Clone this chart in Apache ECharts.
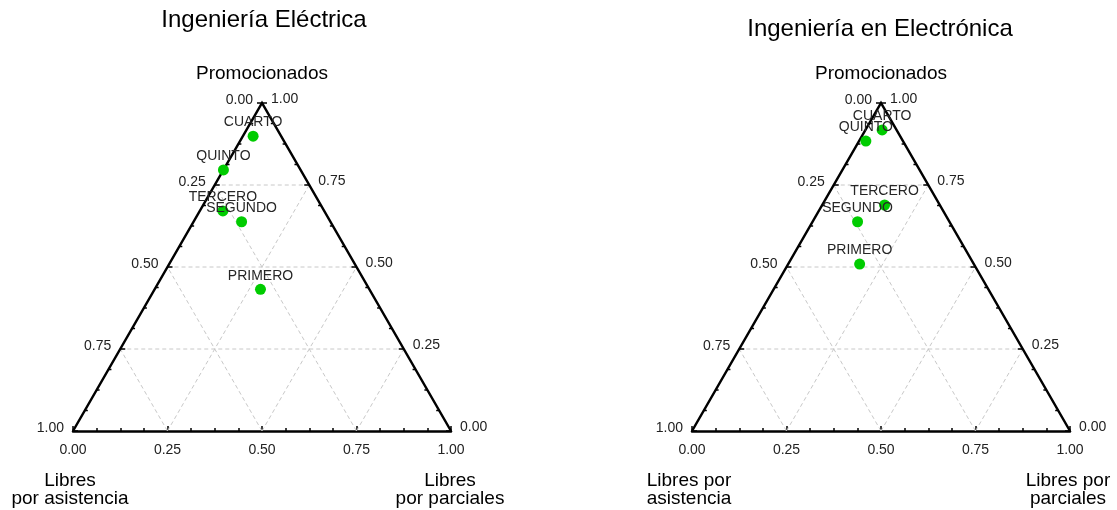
<!DOCTYPE html>
<html>
<head>
<meta charset="utf-8">
<script src="https://cdn.jsdelivr.net/npm/echarts@6/dist/echarts.min.js"></script>
<style>
html,body{margin:0;padding:0;background:#fff;}
#chart{width:1117px;height:510px;}
</style>
</head>
<body>
<div id="chart"></div>
<script>
// ---- Data ----
const categories = ['PRIMERO', 'SEGUNDO', 'TERCERO', 'CUARTO', 'QUINTO'];
// Ingeniería Eléctrica (fractions)
const electricaPromocionados = [0.432, 0.638, 0.671, 0.899, 0.796];
const electricaAsistencia    = [0.288, 0.235, 0.268, 0.074, 0.204];
const electricaParciales     = [0.280, 0.127, 0.061, 0.027, 0.000];
// Ingeniería en Electrónica (fractions)
const electronicaPromocionados = [0.509, 0.638, 0.689, 0.918, 0.884];
const electronicaAsistencia    = [0.302, 0.243, 0.146, 0.038, 0.098];
const electronicaParciales     = [0.189, 0.119, 0.165, 0.044, 0.018];
// Tick values
const tickValues = [0, 0.25, 0.5, 0.75, 1];
const gridValues = [0.25, 0.5, 0.75];
const minorSteps = 16;

const FONT = "'Liberation Sans', Arial, sans-serif";

// ternary -> cartesian (x along bottom, y = promocionados height)
function toXY(promo, asis, parc) {
  return [parc + promo / 2, promo];
}

function buildPoints(promo, asis, parc) {
  return categories.map((name, i) => ({
    name: name,
    value: toXY(promo[i], asis[i], parc[i])
  }));
}

function frameRenderer(params, api) {
  const c = (p) => api.coord(p);
  const children = [];
  // dashed grid lines
  gridValues.forEach(t => {
    const segs = [
      [[t / 2, t], [1 - t / 2, t]],                 // constant promocionados
      [[t, 0], [t + (1 - t) / 2, 1 - t]],           // constant parciales
      [[1 - t, 0], [(1 - t) / 2, 1 - t]]            // constant asistencia
    ];
    segs.forEach(s => {
      const a = c(s[0]), b = c(s[1]);
      children.push({
        type: 'line',
        shape: { x1: a[0], y1: a[1], x2: b[0], y2: b[1] },
        style: { stroke: '#c8c8c8', lineWidth: 1, lineDash: [4, 3] },
        z2: 1
      });
    });
  });
  // triangle sides (left & right; bottom is the x axis)
  children.push({
    type: 'polyline',
    shape: { points: [c([0, 0]), c([0.5, 1]), c([1, 0])] },
    style: { stroke: '#000', lineWidth: 2.5, fill: null, lineJoin: 'miter' },
    z2: 5
  });
  // side ticks
  for (let i = 0; i <= minorSteps; i++) {
    const t = i / minorSteps;
    const len = (i % 4 === 0) ? 5 : 3;
    const L = c([(1 - t) / 2, 1 - t]);
    const R = c([1 - t / 2, t]);
    children.push({
      type: 'line',
      shape: { x1: L[0], y1: L[1], x2: L[0] + len, y2: L[1] },
      style: { stroke: '#000', lineWidth: 1.5 }, z2: 5
    });
    children.push({
      type: 'line',
      shape: { x1: R[0], y1: R[1], x2: R[0] - len, y2: R[1] },
      style: { stroke: '#000', lineWidth: 1.5 }, z2: 5
    });
  }
  // side labels
  tickValues.forEach(t => {
    const L = c([(1 - t) / 2, 1 - t]);
    const R = c([1 - t / 2, t]);
    children.push({
      type: 'text',
      x: L[0] - 9, y: L[1] - 3,
      style: { text: t.toFixed(2), fontSize: 14, fontFamily: FONT, fill: '#222', align: 'right', verticalAlign: 'middle' },
      z2: 6
    });
    children.push({
      type: 'text',
      x: R[0] + 9, y: R[1] - 4,
      style: { text: t.toFixed(2), fontSize: 14, fontFamily: FONT, fill: '#222', align: 'left', verticalAlign: 'middle' },
      z2: 6
    });
  });
  return { type: 'group', children: children };
}

const chart = echarts.init(document.getElementById('chart'), null, { renderer: 'canvas' });

function xAxisDef(idx) {
  return {
    gridIndex: idx, type: 'value', min: 0, max: 1, interval: 0.25,
    axisLine: { show: true, onZero: true, lineStyle: { color: '#000', width: 2.5 } },
    axisTick: { show: true, inside: true, length: 5, lineStyle: { color: '#000', width: 1.5 } },
    minorTick: { show: true, splitNumber: 4, length: 3, lineStyle: { color: '#000', width: 1.5 } },
    axisLabel: { formatter: v => v.toFixed(2), fontSize: 14, fontFamily: FONT, color: '#222', margin: 12 },
    splitLine: { show: false }
  };
}
function yAxisDef(idx) {
  return { gridIndex: idx, type: 'value', min: 0, max: 1, show: false, splitLine: { show: false } };
}

function textEl(x, y, text, size, lh) {
  return {
    type: 'text', x: x, y: y,
    style: { text: text, fontSize: size, fontFamily: FONT, fill: '#000', align: 'center', verticalAlign: 'middle', lineHeight: lh || size + 2 }
  };
}

const option = {
  animation: false,
  backgroundColor: '#fff',
  grid: [
    { left: 73, top: 103, width: 378, height: 328 },
    { left: 692, top: 103, width: 378, height: 328 }
  ],
  xAxis: [xAxisDef(0), xAxisDef(1)],
  yAxis: [yAxisDef(0), yAxisDef(1)],
  graphic: [
    textEl(264, 20, 'Ingeniería Eléctrica', 24),
    textEl(880, 29, 'Ingeniería en Electrónica', 24),
    textEl(262, 74, 'Promocionados', 19),
    textEl(881, 74, 'Promocionados', 19),
    textEl(70, 490, 'Libres\npor asistencia', 19, 18),
    textEl(450, 490, 'Libres\npor parciales', 19, 18),
    textEl(689, 490, 'Libres por\nasistencia', 19, 18),
    textEl(1068, 490, 'Libres por\nparciales', 19, 18)
  ],
  series: [
    {
      type: 'custom', xAxisIndex: 0, yAxisIndex: 0, data: [[0, 0]],
      renderItem: frameRenderer, silent: true, clip: false, z: 1
    },
    {
      type: 'custom', xAxisIndex: 1, yAxisIndex: 1, data: [[0, 0]],
      renderItem: frameRenderer, silent: true, clip: false, z: 1
    },
    {
      type: 'scatter', xAxisIndex: 0, yAxisIndex: 0, z: 4,
      symbolSize: 11, itemStyle: { color: '#00cc00', opacity: 1 },
      label: { show: true, position: 'top', distance: 1, formatter: p => p.name, fontSize: 14, fontFamily: FONT, color: '#262626' },
      data: buildPoints(electricaPromocionados, electricaAsistencia, electricaParciales)
    },
    {
      type: 'scatter', xAxisIndex: 1, yAxisIndex: 1, z: 4,
      symbolSize: 11, itemStyle: { color: '#00cc00', opacity: 1 },
      label: { show: true, position: 'top', distance: 1, formatter: p => p.name, fontSize: 14, fontFamily: FONT, color: '#262626' },
      data: buildPoints(electronicaPromocionados, electronicaAsistencia, electronicaParciales)
    }
  ]
};
chart.setOption(option);
</script>
</body>
</html>
